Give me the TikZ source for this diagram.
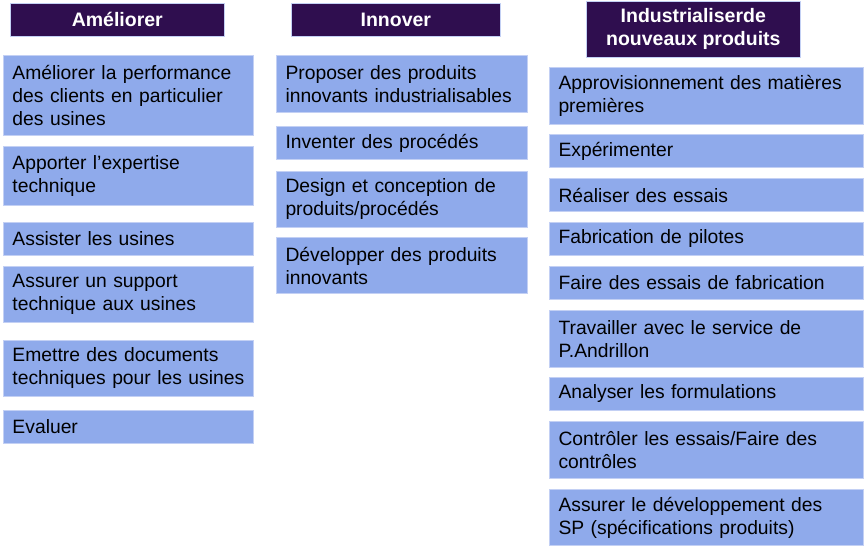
\documentclass[tikz,border=0pt]{standalone}
\usepackage{fontspec}
\setmainfont{Liberation Sans}
\definecolor{hdr}{HTML}{2F0E4F}
\definecolor{boxfill}{HTML}{8FAAEB}
\definecolor{boxline}{HTML}{C3D0F4}
\begin{document}
\begin{tikzpicture}[x=1pt,y=-1pt,
  hdrbox/.style={fill=hdr, draw=boxline, line width=0.6pt, text=white, font=\fontsize{19.5}{23}\selectfont\bfseries, align=center, anchor=north west, inner sep=0pt},
  itembox/.style={fill=boxfill, draw=boxline, line width=1pt, text=black, font=\fontsize{19.3}{23}\selectfont, align=left, anchor=north west, inner xsep=9pt, inner ysep=0pt}]
\useasboundingbox (0,0) rectangle (865,546);
% headers
\node[hdrbox, minimum width=214pt, minimum height=33pt] (h1) at (10,3) {Améliorer};
\node[hdrbox, minimum width=209pt, minimum height=33pt] (h2) at (291,3) {Innover};
\node[hdrbox, minimum width=214pt, minimum height=56pt] (h3) at (586,1) {Industrialiserde\\nouveaux produits};
% column 1
\node[itembox, minimum width=250pt, text width=232pt, minimum height=80pt] (a1) at (3,55) {Améliorer la performance\\des clients en particulier\\des usines};
\node[itembox, minimum width=250pt, text width=232pt, minimum height=59pt] (a2) at (3,146) {Apporter l’expertise\\technique};
\node[itembox, minimum width=250pt, text width=232pt, minimum height=33pt] (a3) at (3,222) {Assister les usines};
\node[itembox, minimum width=250pt, text width=232pt, minimum height=56pt] (a4) at (3,266) {Assurer un support\\technique aux usines};
\node[itembox, minimum width=250pt, text width=232pt, minimum height=56pt] (a5) at (3,340) {Emettre des documents\\techniques pour les usines};
\node[itembox, minimum width=250pt, text width=232pt, minimum height=33pt] (a6) at (3,410) {Evaluer};
% column 2
\node[itembox, minimum width=251pt, text width=233pt, minimum height=57pt] (b1) at (276,55) {Proposer des produits\\innovants industrialisables};
\node[itembox, minimum width=251pt, text width=233pt, minimum height=33pt] (b2) at (276,126) {Inventer des procédés};
\node[itembox, minimum width=251pt, text width=233pt, minimum height=56pt] (b3) at (276,171) {Design et conception de\\produits/procédés};
\node[itembox, minimum width=251pt, text width=233pt, minimum height=56pt] (b4) at (276,237) {Développer des produits\\innovants};
% column 3
\node[itembox, minimum width=314pt, text width=296pt, minimum height=57pt] (c1) at (549,67) {Approvisionnement des matières\\premières};
\node[itembox, minimum width=314pt, text width=296pt, minimum height=33pt] (c2) at (549,134) {Expérimenter};
\node[itembox, minimum width=314pt, text width=296pt, minimum height=33pt] (c3) at (549,178) {Réaliser des essais};
\node[itembox, minimum width=314pt, text width=296pt, minimum height=33pt] (c4) at (549,222) {Fabrication de pilotes};
\node[itembox, minimum width=314pt, text width=296pt, minimum height=33pt] (c5) at (549,266) {Faire des essais de fabrication};
\node[itembox, minimum width=314pt, text width=296pt, minimum height=57pt] (c6) at (549,310) {Travailler avec le service de\\P.Andrillon};
\node[itembox, minimum width=314pt, text width=296pt, minimum height=33pt] (c7) at (549,377) {Analyser les formulations};
\node[itembox, minimum width=314pt, text width=296pt, minimum height=57pt] (c8) at (549,421) {Contrôler les essais/Faire des\\contrôles};
\node[itembox, minimum width=314pt, text width=296pt, minimum height=56pt] (c9) at (549,489) {Assurer le développement des\\SP (spécifications produits)};
\end{tikzpicture}
\end{document}
